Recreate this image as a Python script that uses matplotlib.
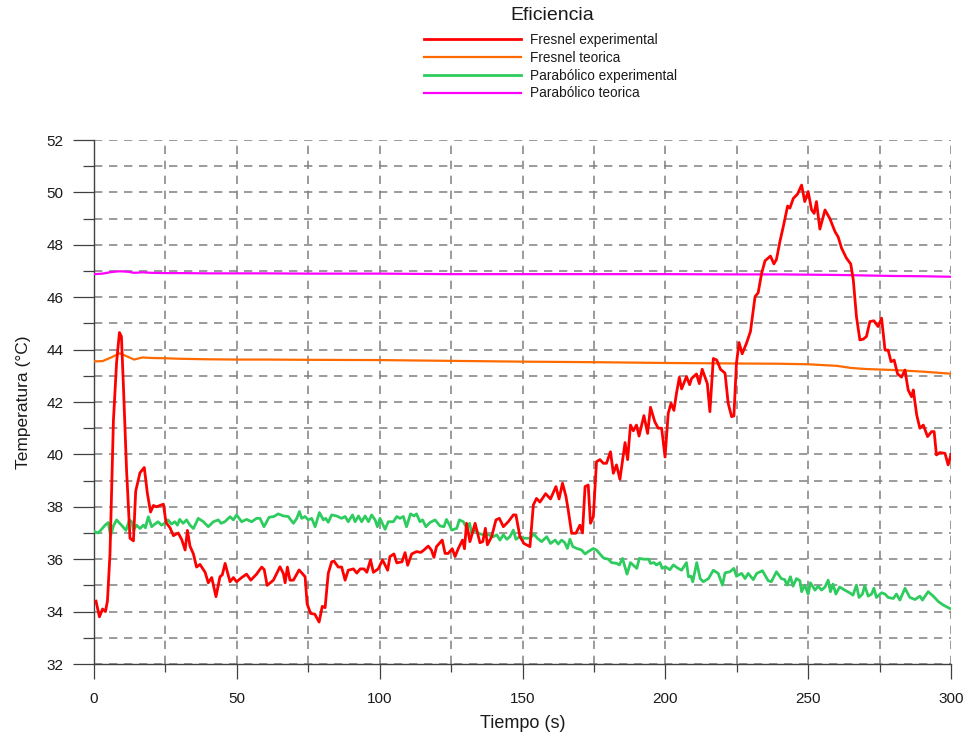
import matplotlib
matplotlib.use("Agg")
import matplotlib.pyplot as plt
from matplotlib.ticker import MultipleLocator

plt.rcParams["font.family"] = ["Liberation Sans", "DejaVu Sans"]
plt.rcParams["lines.scale_dashes"] = False

# Fresnel experimental: time (s) and temperature (°C)
t_fresnel_exp = [
    0.7, 1.9, 3.0, 4.0, 4.7, 5.6, 6.8, 7.9, 8.9, 9.6,
    10.3, 11.4, 12.6, 13.8, 14.6, 16.1, 17.6, 18.7, 19.8, 20.8,
    21.9, 24.3, 25.2, 26.6, 27.8, 29.5, 30.7, 31.9, 32.7, 33.6,
    34.8, 35.9, 37.1, 38.9, 40.0, 41.2, 42.7, 44.1, 44.9, 45.9,
    47.6, 48.8, 49.9, 51.7, 53.4, 54.9, 56.9, 58.7, 59.6, 60.6,
    62.8, 65.1, 66.3, 66.9, 67.7, 68.6, 69.8, 71.8, 73.9, 74.6,
    75.8, 77.3, 78.8, 79.9, 80.9, 82.0, 83.2, 84.0, 85.5, 86.7,
    87.9, 89.0, 90.8, 92.0, 93.2, 94.5, 95.5, 96.8, 97.8, 99.5,
    101.0, 102.8, 103.6, 105.0, 106.0, 107.8, 108.9, 109.8, 111.2, 112.9,
    114.4, 115.5, 117.0, 118.1, 119.0, 119.9, 121.9, 122.9, 124.0, 125.4,
    126.4, 127.5, 129.0, 129.7, 130.4, 131.6, 133.4, 135.1, 136.1, 137.0,
    137.7, 139.2, 140.7, 141.9, 143.3, 145.0, 146.8, 147.7, 149.1, 150.5,
    152.6, 153.8, 154.9, 156.1, 158.1, 159.8, 161.7, 162.8, 164.0, 165.2,
    166.0, 167.2, 168.7, 170.1, 171.0, 171.9, 173.0, 173.8, 174.8, 175.9,
    177.1, 178.3, 179.4, 180.8, 181.8, 182.9, 184.1, 185.9, 186.8, 187.8,
    188.8, 189.9, 190.8, 192.5, 193.8, 194.8, 196.3, 197.5, 198.7, 199.9,
    201.0, 202.0, 203.0, 203.9, 204.9, 205.7, 207.4, 208.5, 209.2, 210.9,
    211.9, 212.9, 214.7, 215.6, 216.8, 218.0, 219.3, 220.9, 222.0, 223.2,
    224.0, 224.9, 225.8, 226.9, 228.4, 229.8, 231.4, 232.5, 233.7, 234.9,
    236.8, 238.0, 238.9, 240.1, 241.3, 242.8, 243.6, 244.8, 246.3, 247.7,
    248.8, 250.0, 251.2, 252.1, 252.9, 254.1, 255.9, 257.6, 259.4, 260.5,
    261.7, 263.4, 264.9, 265.8, 266.9, 268.1, 269.3, 270.4, 271.6, 273.0,
    274.5, 275.7, 276.9, 278.0, 279.0, 280.1, 281.3, 282.7, 283.9, 285.0,
    286.2, 286.8, 288.0, 289.1, 290.3, 291.8, 293.2, 294.1, 294.9, 296.1,
    297.9, 299.0, 300.0,
]
fresnel_exp = [
    34.4, 33.8, 34.1, 34.0, 34.4, 36.2, 41.3, 43.5, 44.65, 44.5,
    42.6, 39.4, 36.8, 36.7, 38.6, 39.3, 39.5, 38.5, 37.8, 38.05,
    38.0, 38.1, 37.4, 37.2, 36.9, 37.0, 36.75, 36.35, 37.1, 36.5,
    36.2, 35.7, 35.8, 35.5, 35.1, 35.3, 34.57, 35.33, 35.4, 35.84,
    35.14, 35.3, 35.14, 35.3, 35.43, 35.2, 35.43, 35.7, 35.6, 35.0,
    35.2, 35.71, 35.45, 35.1, 35.7, 35.2, 35.2, 35.59, 35.33, 34.3,
    33.93, 33.9, 33.6, 34.2, 34.15, 35.46, 35.9, 35.93, 35.7, 35.7,
    35.2, 35.58, 35.63, 35.47, 35.63, 35.63, 35.5, 35.97, 35.5, 35.63,
    35.97, 35.58, 36.1, 36.2, 35.86, 35.9, 36.25, 35.77, 36.2, 36.29,
    36.26, 36.35, 36.5, 36.35, 36.07, 36.48, 36.73, 36.22, 36.22, 36.4,
    36.1, 36.4, 36.73, 36.4, 37.37, 36.67, 37.37, 36.63, 36.67, 37.18,
    36.55, 36.86, 37.5, 37.56, 37.24, 37.43, 37.69, 37.69, 36.86, 36.6,
    36.48, 38.07, 38.32, 38.18, 38.5, 38.3, 38.77, 38.3, 38.9, 38.4,
    37.88, 36.99, 36.99, 37.3, 37.0, 38.77, 38.83, 37.37, 37.62, 39.72,
    39.8, 39.66, 39.66, 40.1, 39.28, 39.6, 39.05, 40.45, 39.8, 41.12,
    40.9, 41.12, 40.7, 41.48, 40.8, 41.8, 41.25, 41.0, 41.0, 39.9,
    41.56, 41.95, 41.68, 42.33, 42.94, 42.5, 42.97, 42.66, 42.9, 43.07,
    42.7, 43.25, 42.7, 41.63, 43.66, 43.6, 43.25, 43.1, 41.95, 41.44,
    41.47, 43.48, 44.27, 43.84, 44.24, 44.69, 46.02, 46.17, 46.91, 47.39,
    47.57, 47.27, 47.44, 48.12, 48.7, 49.48, 49.4, 49.77, 49.94, 50.28,
    49.65, 50.03, 49.33, 49.2, 49.65, 48.6, 49.33, 49.0, 48.5, 48.3,
    47.87, 47.49, 47.27, 46.66, 45.26, 44.37, 44.4, 44.5, 45.07, 45.1,
    44.88, 45.2, 43.98, 43.98, 43.54, 43.6, 43.07, 42.95, 43.22, 42.46,
    42.2, 42.46, 41.5, 41.0, 41.12, 40.68, 40.87, 40.87, 39.98, 40.07,
    40.04, 39.6, 40.0,
]

# Parabólico experimental: time (s) and temperature (°C)
t_parab_exp = [
    0.3, 1.5, 3.9, 5.0, 5.8, 6.8, 7.9, 9.6, 11.2, 12.4,
    13.2, 13.8, 14.9, 16.1, 17.3, 18.0, 19.0, 20.2, 21.3, 22.4,
    23.6, 24.8, 25.9, 27.1, 28.3, 29.2, 30.0, 31.2, 32.4, 33.6,
    34.8, 36.5, 38.3, 40.0, 41.8, 43.5, 44.5, 45.8, 47.6, 48.8,
    49.9, 51.7, 53.4, 55.2, 56.9, 58.1, 59.5, 61.3, 63.0, 64.5,
    66.3, 68.0, 69.8, 71.0, 71.9, 72.7, 73.9, 75.0, 76.2, 77.4,
    78.9, 80.3, 81.1, 82.0, 83.2, 84.9, 86.7, 87.9, 89.0, 90.5,
    91.4, 92.6, 93.7, 94.9, 96.1, 97.2, 98.4, 99.2, 100.1, 101.9,
    103.0, 104.8, 106.0, 107.1, 108.3, 109.4, 110.8, 112.0, 112.9, 114.1,
    115.0, 116.2, 117.6, 119.4, 121.1, 122.5, 123.4, 124.6, 125.2, 127.0,
    127.9, 129.3, 130.5, 131.5, 132.2, 133.4, 134.6, 136.3, 138.1, 139.8,
    141.0, 142.1, 143.3, 144.5, 145.6, 146.8, 147.7, 149.1, 150.3, 151.5,
    152.6, 154.0, 155.2, 156.7, 158.5, 159.8, 161.4, 162.5, 163.7, 164.8,
    165.7, 166.6, 167.6, 169.0, 170.7, 171.9, 173.0, 174.8, 175.9, 177.1,
    178.3, 180.0, 181.2, 183.0, 183.9, 185.0, 186.6, 187.8, 189.4, 190.0,
    190.9, 192.5, 194.2, 194.8, 196.0, 196.9, 198.1, 198.9, 200.0, 201.6,
    202.8, 204.5, 205.7, 207.4, 208.1, 209.0, 209.6, 211.0, 212.2, 213.3,
    215.1, 216.8, 218.5, 220.0, 220.9, 222.6, 224.0, 224.9, 226.7, 227.9,
    229.0, 230.8, 232.0, 234.0, 236.0, 237.1, 238.9, 240.6, 241.8, 242.6,
    243.8, 244.7, 245.9, 247.1, 247.7, 248.8, 250.0, 250.8, 252.4, 253.5,
    254.7, 255.9, 257.0, 257.8, 258.7, 259.7, 261.0, 262.8, 264.5, 265.7,
    266.9, 267.8, 269.0, 269.8, 271.0, 272.2, 273.0, 273.9, 275.7, 276.9,
    278.0, 279.8, 280.9, 282.1, 283.9, 285.6, 287.4, 289.1, 290.0, 292.0,
    293.8, 295.6, 297.3, 299.6,
]
parab_exp = [
    37.05, 37.0, 37.3, 37.4, 36.89, 37.27, 37.5, 37.3, 37.1, 37.5,
    37.43, 37.1, 37.3, 37.17, 37.3, 37.2, 37.62, 37.24, 37.34, 37.43,
    37.3, 37.37, 37.5, 37.34, 37.43, 37.3, 37.52, 37.37, 37.5, 37.3,
    37.17, 37.56, 37.43, 37.24, 37.43, 37.5, 37.37, 37.43, 37.62, 37.5,
    37.69, 37.43, 37.52, 37.43, 37.56, 37.56, 37.24, 37.6, 37.63, 37.73,
    37.65, 37.63, 37.37, 37.56, 37.82, 37.56, 37.63, 37.5, 37.56, 37.24,
    37.78, 37.5, 37.56, 37.41, 37.69, 37.65, 37.56, 37.63, 37.43, 37.69,
    37.43, 37.65, 37.43, 37.65, 37.43, 37.69, 37.5, 37.24, 37.56, 37.14,
    37.43, 37.43, 37.63, 37.56, 37.63, 37.24, 37.73, 37.65, 37.73, 37.43,
    37.5, 37.24, 37.4, 37.5, 37.27, 37.24, 37.52, 37.27, 37.11, 37.18,
    37.5, 37.43, 37.18, 37.37, 36.99, 37.11, 36.99, 36.93, 36.93, 36.86,
    36.93, 36.73, 36.93, 36.76, 36.86, 37.11, 36.76, 36.86, 36.8, 36.8,
    36.8, 36.96, 36.8, 36.67, 36.86, 36.6, 36.73, 36.58, 36.73, 36.63,
    36.41, 36.76, 36.48, 36.41, 36.35, 36.2, 36.29, 36.41, 36.35, 36.2,
    36.05, 36.0, 35.87, 35.84, 35.78, 36.03, 35.43, 35.87, 35.71, 35.65,
    36.03, 36.0, 36.0, 35.84, 35.87, 35.78, 35.87, 35.65, 35.71, 35.6,
    35.78, 35.65, 35.58, 35.87, 35.33, 35.35, 35.14, 35.87, 35.26, 35.14,
    35.26, 35.58, 35.46, 35.01, 35.48, 35.52, 35.65, 35.35, 35.46, 35.26,
    35.46, 35.22, 35.46, 35.56, 35.18, 35.14, 35.52, 35.26, 35.22, 35.01,
    35.33, 34.97, 35.26, 35.18, 34.76, 35.01, 34.67, 35.1, 34.82, 34.97,
    34.82, 34.94, 35.2, 34.76, 35.05, 34.67, 34.94, 34.82, 34.72, 34.63,
    35.01, 34.54, 34.67, 34.99, 34.59, 34.67, 34.89, 34.54, 34.72, 34.67,
    34.54, 34.5, 34.67, 34.44, 34.89, 34.54, 34.46, 34.59, 34.44, 34.76,
    34.59, 34.38, 34.25, 34.12,
]

# Theoretical curves share one time base
t_teorica = [0, 3, 6, 9, 12, 14, 17, 20, 25, 30, 40, 50, 60, 75, 100,
             125, 150, 175, 200, 225, 240, 250, 260, 265, 270, 280, 290, 300]
fresnel_teo = [43.55, 43.56, 43.7, 43.86, 43.72, 43.62, 43.7, 43.68, 43.67,
               43.65, 43.63, 43.62, 43.62, 43.61, 43.6, 43.57, 43.54, 43.52,
               43.49, 43.47, 43.46, 43.44, 43.38, 43.3, 43.26, 43.22, 43.16,
               43.08]
parab_teo = [46.88, 46.9, 46.96, 46.99, 46.97, 46.93, 46.95, 46.93, 46.92,
             46.92, 46.91, 46.91, 46.91, 46.9, 46.9, 46.88, 46.88, 46.88,
             46.88, 46.87, 46.87, 46.86, 46.85, 46.84, 46.83, 46.81, 46.8,
             46.78]

fig = plt.figure(figsize=(9.66, 7.36), dpi=100)
ax = fig.add_axes([94 / 966, 72 / 736, 857 / 966, 524 / 736])

l1, = ax.plot(t_fresnel_exp, fresnel_exp, color="#ff0000", lw=2.0, zorder=5,
              label="Fresnel experimental")
l2, = ax.plot(t_teorica, fresnel_teo, color="#ff6a00", lw=1.6, zorder=3,
              label="Fresnel teorica")
l3, = ax.plot(t_parab_exp, parab_exp, color="#2ecc5e", lw=2.0, zorder=4,
              label="Parabólico experimental")
l4, = ax.plot(t_teorica, parab_teo, color="#ff00ff", lw=1.6, zorder=3,
              label="Parabólico teorica")

ax.set_xlim(0, 300)
ax.set_ylim(32, 52)
ax.xaxis.set_major_locator(MultipleLocator(50))
ax.xaxis.set_minor_locator(MultipleLocator(25))
ax.yaxis.set_major_locator(MultipleLocator(2))
ax.yaxis.set_minor_locator(MultipleLocator(1))

ax.grid(which="both", linestyle=(0, (6, 4.8)), color="#808080", lw=1.1)
ax.set_axisbelow(True)

for side in ("top", "right"):
    ax.spines[side].set_visible(False)
for side in ("left", "bottom"):
    ax.spines[side].set_color("#404040")
    ax.spines[side].set_linewidth(1.0)

ax.tick_params(axis="y", which="major", length=15, width=0.9, color="#404040",
               labelsize=11, pad=7, labelcolor="#1a1a1a")
ax.tick_params(axis="y", which="minor", length=8, width=0.9, color="#404040")
ax.tick_params(axis="x", which="major", length=11, width=0.9, color="#404040",
               labelsize=11, pad=9, labelcolor="#1a1a1a")
ax.tick_params(axis="x", which="minor", length=6, width=0.9, color="#404040")

ax.set_xlabel("Tiempo (s)", fontsize=13, labelpad=7, color="#1a1a1a")
ax.set_ylabel("Temperatura (°C)", fontsize=12.5, labelpad=11, color="#1a1a1a")

# Legend block with its heading above
fig.text(552 / 966, 1 - 15 / 736, "Eficiencia", ha="center", va="center",
         fontsize=14, color="#1a1a1a")
leg = fig.legend(handles=[l1, l2, l3, l4], loc="upper left",
                 bbox_to_anchor=(424 / 966, 1 - 33 / 736), frameon=False,
                 fontsize=9.8, handlelength=7.1, handletextpad=0.7,
                 labelspacing=0.28, borderpad=0.0, borderaxespad=0.0)
for txt in leg.get_texts():
    txt.set_color("#1a1a1a")

fig.savefig("out.png", dpi=100)
